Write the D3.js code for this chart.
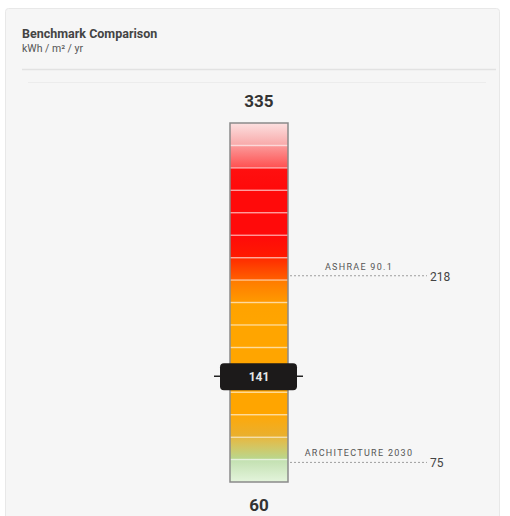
<!DOCTYPE html>
<html><head><meta charset="utf-8">
<script src="https://cdn.jsdelivr.net/npm/d3@7"></script>
<style>
body{margin:0;background:#fff;}
svg{display:block;}
</style></head>
<body>
<svg id="chart" width="510" height="516"></svg>
<script>
const title = "Benchmark Comparison";
const unitLabel = "kWh / m² / yr";
const scaleMax = 335;
const scaleMin = 60;
const currentValue = 141;
const benchmarkNames = ["ASHRAE 90.1", "ARCHITECTURE 2030"];
const benchmarkValues = [218, 75];
// segment gradient colours (top -> bottom), one pair per band
const segTop =    ["#fce0e0","#fb9a9a","#ff1010","#ff0a0a","#ff0a0a","#ff0a0a","#ff2a00","#ff7a00","#ffa200","#ffa500","#ffa500","#ffa500","#ffa500","#ffa808","#e8b840","#c2e0b0"];
const segBottom = ["#f8a8a8","#ff5050","#ff0a0a","#ff0a0a","#ff0a0a","#ff1a00","#ff6000","#ff9a00","#ffa500","#ffa500","#ffa500","#ffa500","#ffa500","#e8b030","#b8d890","#e4f4dc"];

const svg = d3.select("#chart");
// panel
svg.append("rect").attr("x",5.5).attr("y",8.5).attr("width",494).attr("height",520)
  .attr("fill","#f6f6f6").attr("stroke","#e8e8e8").attr("rx",3);
svg.append("text").attr("x",22).attr("y",38).text(title)
  .attr("font-family","Roboto, sans-serif").attr("font-weight","bold").attr("font-size",12.5).attr("fill","#444");
svg.append("text").attr("x",22).attr("y",52).text(unitLabel)
  .attr("font-family","Roboto, sans-serif").attr("font-size",10.5).attr("fill","#555");
svg.append("line").attr("x1",22).attr("x2",496).attr("y1",69.5).attr("y2",69.5).attr("stroke","#e2e2e2").attr("stroke-width",1.5);
svg.append("line").attr("x1",28).attr("x2",486).attr("y1",82.5).attr("y2",82.5).attr("stroke","#ececec");

const y = d3.scaleLinear().domain([scaleMin, scaleMax]).range([482, 123]);
const barX = 230, barW = 58;
const n = segTop.length;
const step = (scaleMax - scaleMin) / n;
const segs = d3.range(n).map(i => ({i, hi: scaleMax - i*step, lo: scaleMax - (i+1)*step}));

const defs = svg.append("defs");
segs.forEach(s => {
  const g = defs.append("linearGradient").attr("id","g"+s.i).attr("x1",0).attr("x2",0).attr("y1",0).attr("y2",1);
  g.append("stop").attr("offset","0%").attr("stop-color",segTop[s.i]);
  g.append("stop").attr("offset","100%").attr("stop-color",segBottom[s.i]);
});
svg.append("g").selectAll("rect").data(segs).join("rect")
  .attr("x",barX).attr("width",barW)
  .attr("y",d=>y(d.hi)).attr("height",d=>y(d.lo)-y(d.hi))
  .attr("fill",d=>"url(#g"+d.i+")");
svg.append("g").selectAll("line").data(segs.slice(1)).join("line")
  .attr("x1",barX).attr("x2",barX+barW)
  .attr("y1",d=>y(d.hi)).attr("y2",d=>y(d.hi))
  .attr("stroke","#ffffff").attr("stroke-opacity",0.5).attr("stroke-width",1.5);
svg.append("rect").attr("x",barX).attr("y",y(scaleMax)).attr("width",barW).attr("height",y(scaleMin)-y(scaleMax))
  .attr("fill","none").attr("stroke","#8a8a8a").attr("stroke-width",1.5);

svg.append("text").attr("x",barX+barW/2).attr("y",y(scaleMax)-16).attr("text-anchor","middle")
  .text(scaleMax).attr("font-family","Roboto, sans-serif").attr("font-weight","bold").attr("font-size",17).attr("fill","#333");
svg.append("text").attr("x",barX+barW/2).attr("y",y(scaleMin)+29).attr("text-anchor","middle")
  .text(scaleMin).attr("font-family","Roboto, sans-serif").attr("font-weight","bold").attr("font-size",17).attr("fill","#333");

// benchmarks
const bm = benchmarkNames.map((nme,i)=>({name:nme, value:benchmarkValues[i]}));
const bg = svg.append("g").selectAll("g").data(bm).join("g");
bg.append("line").attr("x1",barX+barW+2).attr("x2",427)
  .attr("y1",d=>y(d.value)).attr("y2",d=>y(d.value))
  .attr("stroke","#888").attr("stroke-dasharray","2,2").attr("stroke-width",0.8);
bg.append("text").attr("x",359).attr("y",d=>y(d.value)-6).attr("text-anchor","middle")
  .text(d=>d.name).attr("font-family","Roboto, sans-serif").attr("font-size",9).attr("letter-spacing",1.3).attr("fill","#555");
bg.append("text").attr("x",430).attr("y",d=>y(d.value)+5).text(d=>d.value)
  .attr("font-family","Roboto, sans-serif").attr("font-size",12).attr("fill","#444");

// current value marker
const my = y(currentValue);
svg.append("line").attr("x1",214).attr("x2",303).attr("y1",my).attr("y2",my).attr("stroke","#222").attr("stroke-width",1.5);
svg.append("rect").attr("x",220).attr("y",my-13).attr("width",77).attr("height",27).attr("rx",4)
  .attr("fill","#1c1a1a");
svg.append("text").attr("x",barX+barW/2).attr("y",my+4.5).attr("text-anchor","middle").text(currentValue)
  .attr("font-family","Roboto, sans-serif").attr("font-weight","bold").attr("font-size",12).attr("fill","#e8e8e8");
</script>
</body></html>
